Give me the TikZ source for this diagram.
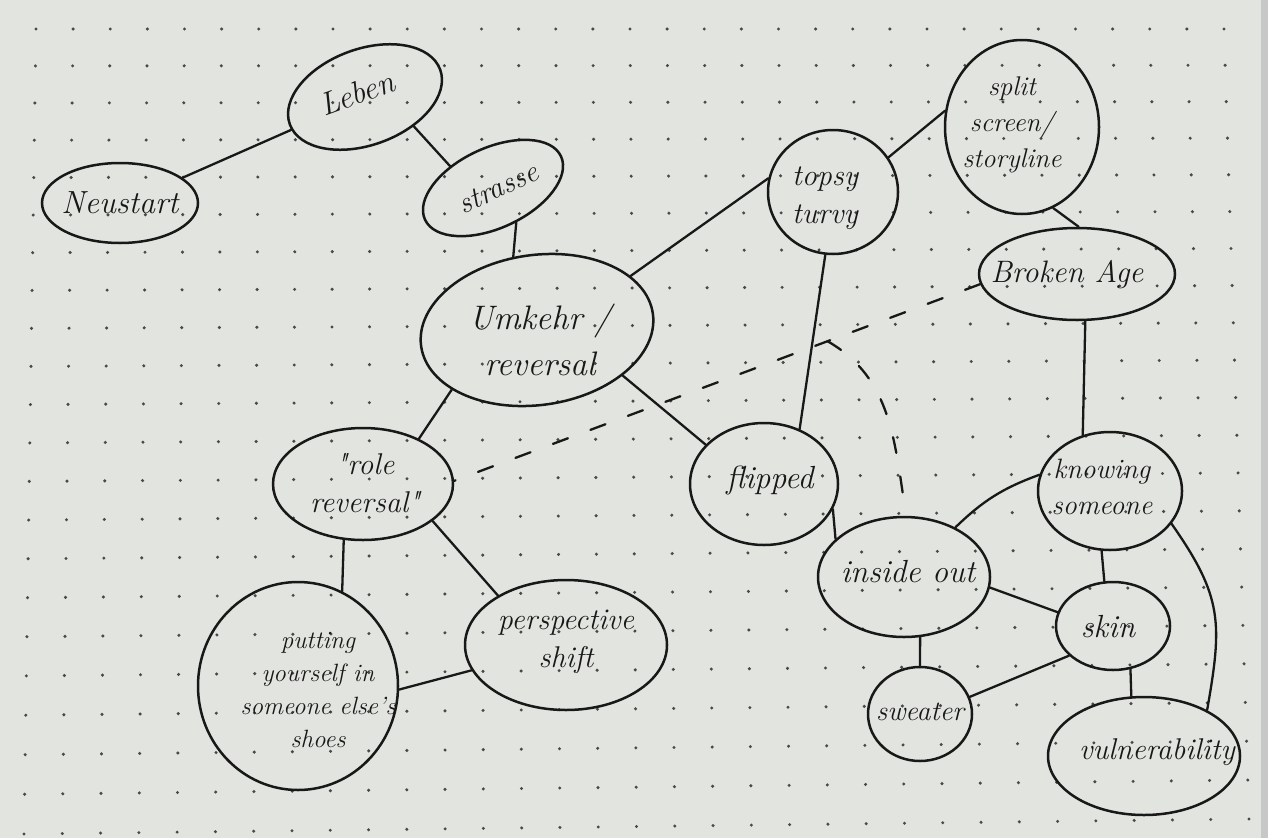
\documentclass[tikz,border=0pt]{standalone}
\usepackage{fontspec}
\newfontfamily\qf{Latin Modern Roman}[Ligatures=TeXOff]
\usetikzlibrary{shapes.geometric}
\definecolor{paper}{RGB}{226,228,223}
\definecolor{edgec}{RGB}{198,199,198}
\definecolor{ink}{RGB}{24,24,24}
\definecolor{dotc}{RGB}{72,73,73}
\newcommand\hw[2]{\fontsize{#1}{#2}\selectfont\itshape}
\tikzset{
  bub/.style={draw=ink, line width=2.5pt, ellipse, inner sep=0pt},
  sz/.style 2 args={minimum width=#1pt, minimum height=#2pt},
  txt/.style={text=ink, align=center, inner sep=0pt},
  link/.style={draw=ink, line width=2.3pt, line cap=round},
  dashlink/.style={draw=ink, line width=2.3pt, line cap=round, dash pattern=on 16pt off 24pt},
}
\begin{document}
\begin{tikzpicture}[x=1pt,y=-1pt]
\useasboundingbox (0,0) rectangle (1268,838);
\fill[paper] (0,0) rectangle (1268,838);
\fill[edgec] (1261,0) rectangle (1268,838);
% dot grid
\foreach \i in {0,...,21} {
  \foreach \j in {0,...,32} {
    \pgfmathsetmacro{\v}{(36.7*\i+0.07*\i*(\i-1))/800.1}
    \pgfmathsetmacro{\u}{\j/32}
    \pgfmathsetmacro{\px}{(1-\v)*(36+\u*1188)+\v*(24+\u*1225)}
    \pgfmathsetmacro{\py}{(1-\v)*29+\v*(834-\u*15)}
    \fill[dotc] (\px,\py) circle[radius=1.7pt];
  }
}
% bubbles
\node[bub, sz={160}{96}, rotate=20] (leben) at (365,97) {};
\node[bub, sz={156}{80}] (neu) at (120,203) {};
\node[bub, sz={150}{80}, rotate=25] (strasse) at (493,188) {};
\node[bub, sz={234}{150}, rotate=8] (umkehr) at (537,330) {};
\node[bub, sz={130}{124}] (topsy) at (833,192) {};
\node[bub, sz={154}{174}] (split) at (1022,127) {};
\node[bub, sz={196}{92}] (broken) at (1077,274) {};
\node[bub, sz={180}{112}] (role) at (363,484) {};
\node[bub, sz={148}{122}] (flipped) at (764,484) {};
\node[bub, sz={144}{118}] (knowing) at (1110,491) {};
\node[bub, sz={172}{120}] (inside) at (904,577) {};
\node[bub, sz={114}{88}] (skin) at (1113,626) {};
\node[bub, sz={200}{208}] (putting) at (298,686) {};
\node[bub, sz={202}{130}] (persp) at (566,645) {};
\node[bub, sz={104}{94}] (sweater) at (920,714) {};
\node[bub, sz={192}{118}] (vuln) at (1144,756) {};
% texts
\node[txt, font={\hw{32}{40}}, rotate=20] (tleben) at (357,93) {Leben};
\node[txt, font={\hw{32}{40}}] (tneu) at (120,203) {Neustart};
\node[txt, font={\hw{30}{38}}, rotate=25] (tstrasse) at (498,188) {strasse};
\node[txt, font={\hw{34}{46}}] (tumkehr) at (540,340) {Umkehr /\\reversal};
\node[txt, font={\hw{30}{38}}] (ttopsy) at (825,198) {topsy\\turvy};
\node[txt, font={\hw{27}{36}}] (tsplit) at (1012,125) {split\\screen/\\storyline};
\node[txt, font={\hw{31}{38}}] (tbroken) at (1067,275) {Broken Age};
\node[txt, font={\qf\hw{30}{38}}] (trole) at (365,483) {"role\\reversal"};
\node[txt, font={\hw{32}{40}}] (tflipped) at (770,480) {flipped};
\node[txt, font={\hw{28}{36}}] (tknowing) at (1102,487) {knowing\\someone};
\node[txt, font={\hw{32}{40}}] (tinside) at (908,572) {inside out};
\node[txt, font={\hw{32}{40}}] (tskin) at (1108,627) {skin};
\node[txt, font={\hw{25}{33}}] (tputting) at (318,690) {putting\\yourself in\\someone else's\\shoes};
\node[txt, font={\hw{30}{38}}] (tpersp) at (566,642) {perspective\\shift};
\node[txt, font={\hw{28}{36}}] (tsweater) at (920,712) {sweater};
\node[txt, font={\hw{30}{38}}] (tvuln) at (1157,752) {vulnerability};
% connectors
\draw[link] (leben.184) -- (neu.22);
\draw[link] (leben.309) -- (strasse.128);
\draw[link] (strasse.279) -- (umkehr.100);
\draw[link] (umkehr.22) -- (topsy.168);
\draw[link] (topsy.32) -- (split.168);
\draw[link] (split.291) -- (broken.88);
\draw[link] (topsy.263) -- (flipped.57);
\draw[link] (umkehr.207) -- (role.39);
\draw[link] (umkehr.324) -- (flipped.146);
\draw[link] (broken.280) -- (knowing.116);
\draw[link] (flipped.340) -- (inside.151);
\draw[link] (knowing.167) to[bend right=12] (inside.44);
\draw[link] (knowing.262) -- (skin.101);
\draw[link] (knowing.332) to[out=-55,in=80,looseness=1.2] (vuln.36);
\draw[link] (inside.353) -- (skin.166);
\draw[link] (inside.285) -- (sweater.90);
\draw[link] (skin.214) -- (sweater.19);
\draw[link] (skin.292) -- (vuln.102);
\draw[link] (role.251) -- (putting.65);
\draw[link] (role.332) -- (persp.144);
\draw[link] (persp.195) -- (putting.358);
\draw[dashlink] (broken.186) -- coordinate[pos=0.29] (br) (role.2);
\draw[dashlink] (br) to[out=-30,in=99] (inside.88);
\end{tikzpicture}
\end{document}
